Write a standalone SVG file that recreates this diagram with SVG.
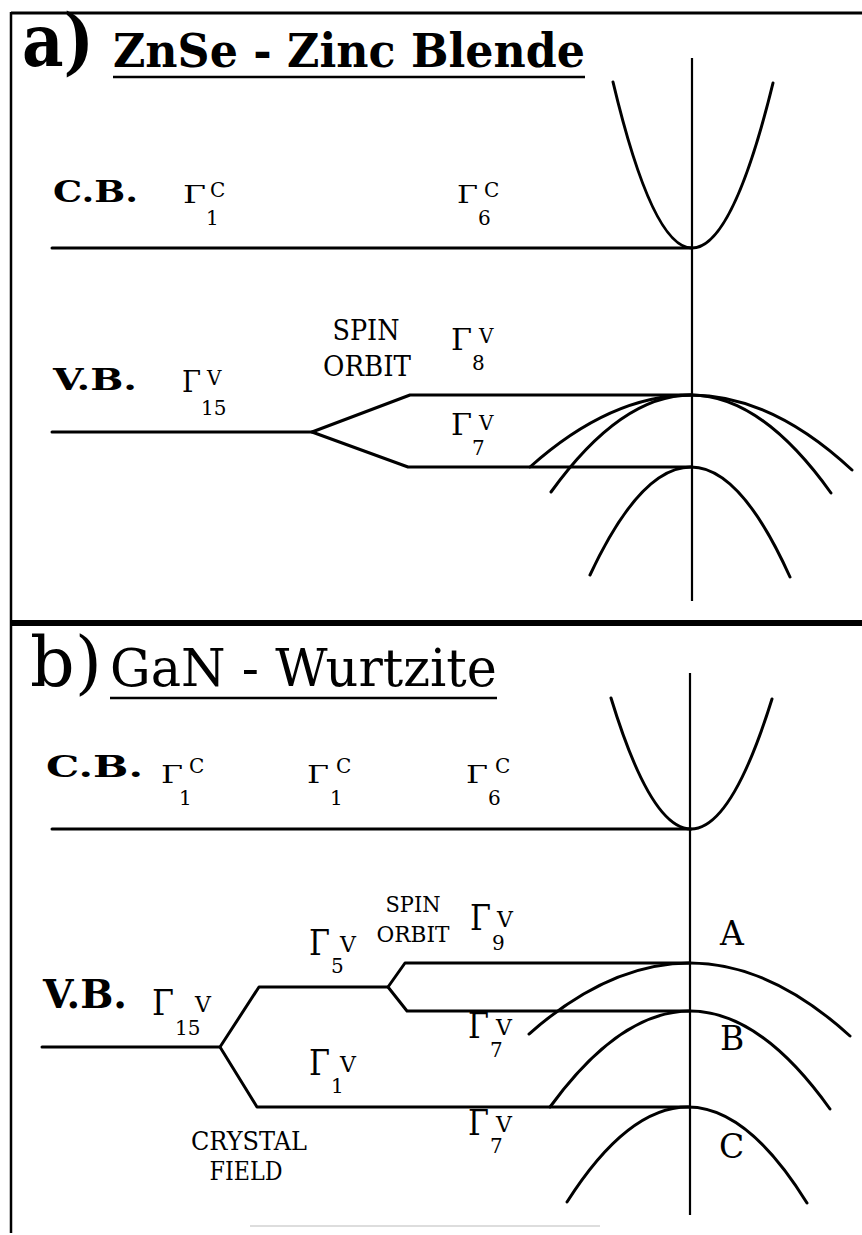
<svg xmlns="http://www.w3.org/2000/svg" width="862" height="1235" viewBox="0 0 862 1235">
<style>
.ln{stroke:#000;stroke-width:3;fill:none;stroke-linejoin:round;stroke-linecap:round}
.ax{stroke:#000;stroke-width:2.2;fill:none}
.fr{stroke:#000;fill:none}
text{font-family:'DejaVu Serif','Liberation Serif',serif;fill:#000}
.b{font-weight:bold}
.g1{font-size:25px}
.g2{font-size:29px}
.g3{font-size:35px}
.s{font-size:20px}
.s2{font-size:22px}
.m{text-anchor:middle}
</style>
<rect width="862" height="1235" fill="#fff"/>
<g id="frame">
<path class="fr" stroke-width="3" d="M11,13 H862"/>
<path class="fr" stroke-width="2.5" d="M11,12 V1233"/>
<path class="fr" stroke-width="6" d="M11,623 H862"/>
<path stroke="#ddd" stroke-width="2" d="M250,1226 H600"/>
</g>
<g id="panel-a" font-family="DejaVu Serif">
<g id="title-a">
<text class="b" x="22" y="66" font-size="72" textLength="72" lengthAdjust="spacingAndGlyphs">a)</text>
<text class="b" x="113" y="67" font-size="46" textLength="472" lengthAdjust="spacingAndGlyphs">ZnSe - Zinc Blende</text>
<path class="fr" stroke-width="2.5" d="M113,77 H585"/>
</g>
<g id="a-labels">
<text class="b" x="53" y="202" font-size="30" textLength="85" lengthAdjust="spacingAndGlyphs">C.B.</text>
<text class="b" x="53" y="390" font-size="30" textLength="84" lengthAdjust="spacingAndGlyphs">V.B.</text>
<text class="g1" x="183" y="203" textLength="23" lengthAdjust="spacingAndGlyphs">Γ</text>
<text class="s" x="210" y="197">C</text>
<text class="s" x="206" y="225">1</text>
<text class="g1" x="457" y="203" textLength="21" lengthAdjust="spacingAndGlyphs">Γ</text>
<text class="s" x="484" y="197">C</text>
<text class="s" x="478" y="225">6</text>
<text class="g2" x="182" y="392" textLength="19" lengthAdjust="spacingAndGlyphs">Γ</text>
<text class="s" x="207" y="385">V</text>
<text class="s" x="201" y="415">15</text>
<text class="m" x="366" y="340" font-size="27" textLength="67" lengthAdjust="spacingAndGlyphs">SPIN</text>
<text class="m" x="367" y="376" font-size="27" textLength="88" lengthAdjust="spacingAndGlyphs">ORBIT</text>
<text class="g2" x="451" y="350" textLength="21" lengthAdjust="spacingAndGlyphs">Γ</text>
<text class="s" x="479" y="343">V</text>
<text class="s" x="472" y="370">8</text>
<text class="g2" x="451" y="435" textLength="21" lengthAdjust="spacingAndGlyphs">Γ</text>
<text class="s" x="479" y="430">V</text>
<text class="s" x="472" y="455">7</text>
</g>
<g id="a-bands">
<path class="ax" d="M692,58 V601"/>
<path class="ln" d="M52,248 H692"/>
<path class="ln" d="M613,82 Q652.5,248 692,248 Q732.5,248 773,83"/>
<path class="ln" d="M52,432 H312 L410,395 H692"/>
<path class="ln" d="M312,432 L408,467 H692"/>
<path class="ln" d="M530,467 Q610.5,395 691,395 Q771.5,395 852,470"/>
<path class="ln" d="M551,492 Q621,395 691,395 Q761,395 831,493"/>
<path class="ln" d="M590,575 Q640.5,467 691,467 Q740.5,467 790,577"/>
</g>
</g>
<g id="panel-b" font-family="DejaVu Serif">
<g id="title-b">
<text x="30" y="686" font-size="70" textLength="72" lengthAdjust="spacingAndGlyphs">b)</text>
<text x="110" y="686" font-size="53" textLength="387" lengthAdjust="spacingAndGlyphs">GaN - Wurtzite</text>
<path class="fr" stroke-width="2.5" d="M110,698 H497"/>
</g>
<g id="b-labels">
<text class="b" x="46" y="777" font-size="30" textLength="97" lengthAdjust="spacingAndGlyphs">C.B.</text>
<text class="g1" x="161" y="783" textLength="22" lengthAdjust="spacingAndGlyphs">Γ</text>
<text class="s" x="189" y="773">C</text>
<text class="s" x="179" y="805">1</text>
<text class="g1" x="307" y="783" textLength="22" lengthAdjust="spacingAndGlyphs">Γ</text>
<text class="s" x="336" y="773">C</text>
<text class="s" x="330" y="805">1</text>
<text class="g1" x="466" y="783" textLength="22" lengthAdjust="spacingAndGlyphs">Γ</text>
<text class="s" x="495" y="773">C</text>
<text class="s" x="488" y="805">6</text>
<text class="b" x="43" y="1008" font-size="40" textLength="84" lengthAdjust="spacingAndGlyphs">V.B.</text>
<text class="g3" x="152" y="1015" textLength="22" lengthAdjust="spacingAndGlyphs">Γ</text>
<text class="s2" x="195" y="1012">V</text>
<text class="s" x="175" y="1035">15</text>
<text class="g3" x="309" y="955" textLength="21" lengthAdjust="spacingAndGlyphs">Γ</text>
<text class="s2" x="340" y="952">V</text>
<text class="s" x="331" y="973">5</text>
<text class="m" x="413" y="912" font-size="23" textLength="55" lengthAdjust="spacingAndGlyphs">SPIN</text>
<text class="m" x="413" y="942" font-size="23" textLength="73" lengthAdjust="spacingAndGlyphs">ORBIT</text>
<text class="g3" x="470" y="930" textLength="21" lengthAdjust="spacingAndGlyphs">Γ</text>
<text class="s2" x="497" y="927">V</text>
<text class="s" x="492" y="950">9</text>
<text class="g3" x="309" y="1075" textLength="21" lengthAdjust="spacingAndGlyphs">Γ</text>
<text class="s2" x="340" y="1072">V</text>
<text class="s" x="331" y="1093">1</text>
<text class="g3" x="468" y="1038" textLength="21" lengthAdjust="spacingAndGlyphs">Γ</text>
<text class="s2" x="496" y="1035">V</text>
<text class="s" x="490" y="1057">7</text>
<text class="g3" x="468" y="1135" textLength="21" lengthAdjust="spacingAndGlyphs">Γ</text>
<text class="s2" x="496" y="1132">V</text>
<text class="s" x="490" y="1153">7</text>
<text class="m" x="249" y="1150" font-size="26" textLength="116" lengthAdjust="spacingAndGlyphs">CRYSTAL</text>
<text class="m" x="246" y="1180" font-size="26" textLength="73" lengthAdjust="spacingAndGlyphs">FIELD</text>
<text x="720" y="945" font-size="33">A</text>
<text x="720" y="1050" font-size="33">B</text>
<text x="719" y="1158" font-size="33">C</text>
</g>
<g id="b-bands">
<path class="ax" d="M690,673 V1215"/>
<path class="ln" d="M52,829 H691"/>
<path class="ln" d="M611,698 Q651,829 691,829 Q731.5,829 772,699"/>
<path class="ln" d="M42,1047 H220 L259,987 H388 L405,963 H690"/>
<path class="ln" d="M388,987 L407,1011 H690"/>
<path class="ln" d="M220,1047 L257,1107 H690"/>
<path class="ln" d="M529,1034 Q609.5,963 690,963 Q770,963 850,1036"/>
<path class="ln" d="M550,1107 Q620,1011 690,1011 Q760,1011 830,1109"/>
<path class="ln" d="M567,1202 Q627.5,1107 688,1107 Q747.5,1107 807,1203"/>
</g>
</g>
</svg>
